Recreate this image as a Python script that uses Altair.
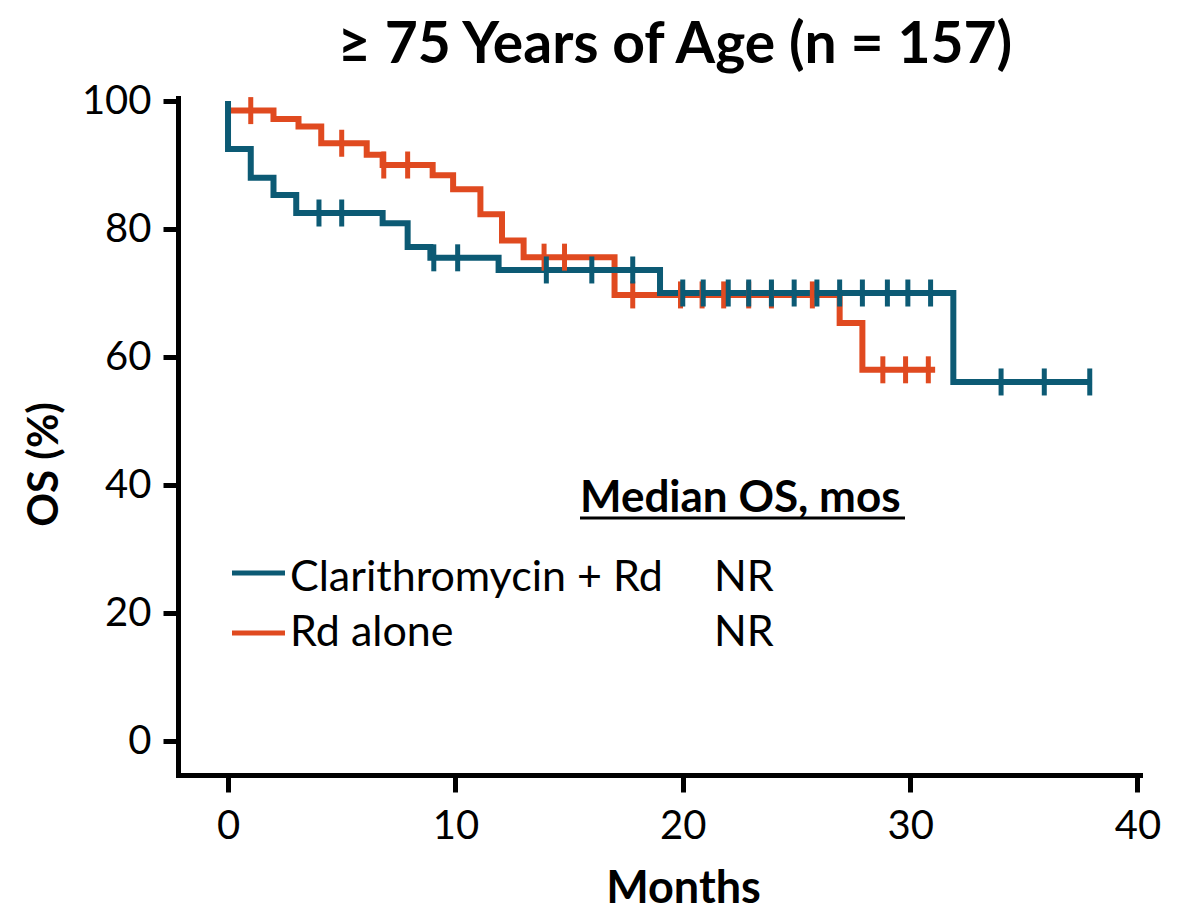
import altair as alt
import pandas as pd

# Kaplan-Meier step points (months, % surviving)
clari_time = [0, 0, 1.0, 2.0, 3.0, 6.8, 7.9, 8.9, 11.9, 19.0, 31.9, 38.0]
clari_surv = [100, 92.5, 88.0, 85.3, 82.5, 80.9, 77.2, 75.5, 73.6, 70.0, 56.1, 56.1]
clari_censor = [4.0, 5.0, 9.05, 10.1, 14.0, 16.0, 17.8, 20.0, 20.9, 22.0, 22.9, 23.9,
                24.9, 25.9, 26.9, 27.9, 29.0, 29.9, 30.9, 34.0, 35.9, 37.9]

rd_time = [0.1, 2.0, 3.1, 4.1, 6.1, 6.8, 9.0, 9.9, 11.1, 12.05, 13.0, 17.0, 26.9, 27.9, 31.1]
rd_surv = [98.5, 97.2, 96.0, 93.4, 91.6, 90.0, 88.4, 86.2, 82.3, 78.2, 75.6, 69.7, 65.3, 58.0, 58.0]
rd_censor = [1.0, 5.0, 6.85, 7.9, 13.9, 14.8, 17.8, 19.9, 20.85, 21.8, 22.9, 23.9,
             25.7, 28.8, 29.8, 30.8]

groups = ["Clarithromycin + Rd", "Rd alone"]
medians = ["NR", "NR"]
colors = ["#0c5a74", "#e04a20"]

TEXT_FONT = "Lato"


def step_value(times, surv, t):
    value = surv[0]
    for ti, si in zip(times, surv):
        if ti <= t:
            value = si
    return value


curve_rows = []
censor_rows = []
for g, times, surv, cens in [
    (groups[1], rd_time, rd_surv, rd_censor),
    (groups[0], clari_time, clari_surv, clari_censor),
]:
    for i, (t, s) in enumerate(zip(times, surv)):
        curve_rows.append({"group": g, "order": i, "month": t, "os": s})
    for t in cens:
        censor_rows.append({"group": g, "month": t, "os": step_value(times, surv, t)})

curves = pd.DataFrame(curve_rows)
censors = pd.DataFrame(censor_rows)

x_scale = alt.Scale(domain=[-2.2, 40.11], nice=False, zero=False)
y_scale = alt.Scale(domain=[-5.31, 100.47], nice=False, zero=False)
color_scale = alt.Scale(domain=groups, range=colors)

x_axis = alt.Axis(values=[0, 10, 20, 30, 40], title="Months", grid=False,
                  labelFont=TEXT_FONT, labelFontSize=40, labelColor="black",
                  labelPadding=14, tickSize=17, tickWidth=5, tickColor="black",
                  domainWidth=5, domainColor="black", domainCap="square",
                  titleFont=TEXT_FONT, titleFontSize=45, titleFontWeight="bold",
                  titleColor="black", titleX=505, titleY=127,
                  titleAlign="center", titleBaseline="alphabetic")
y_axis = alt.Axis(values=[0, 20, 40, 60, 80, 100], title="OS (%)", grid=False,
                  labelFont=TEXT_FONT, labelFontSize=40, labelColor="black",
                  labelPadding=12, tickSize=15, tickWidth=5, tickColor="black",
                  domainWidth=5, domainColor="black", domainCap="square",
                  titleFont=TEXT_FONT, titleFontSize=42, titleFontWeight="bold",
                  titleColor="black", titleX=-134, titleY=366, titleAngle=-90,
                  titleAlign="center", titleBaseline="middle")

lines = alt.Chart(curves).mark_line(interpolate="step-after", strokeWidth=6,
                                    strokeCap="butt", strokeJoin="miter").encode(
    x=alt.X("month:Q", scale=x_scale, axis=x_axis),
    y=alt.Y("os:Q", scale=y_scale, axis=y_axis),
    color=alt.Color("group:N", scale=color_scale, legend=None),
    detail="group:N",
    order=alt.Order("order:Q"),
)

ticks = alt.Chart(censors).mark_tick(orient="vertical", size=27, thickness=5, opacity=1).encode(
    x=alt.X("month:Q", scale=x_scale),
    y=alt.Y("os:Q", scale=y_scale),
    color=alt.Color("group:N", scale=color_scale, legend=None),
)

# Legend block: swatch, treatment name and median OS per row
legend_df = pd.DataFrame({"group": groups, "median": medians})
row_swatch_y = [475, 535]
row_text_y = [480, 535]

legend_layers = []
for i, g in enumerate(groups):
    row = alt.Chart(legend_df).transform_filter(alt.datum.group == g)
    legend_layers.append(
        row.mark_rule(strokeWidth=5).encode(
            x=alt.value(54), x2=alt.value(107), y=alt.value(row_swatch_y[i]),
            color=alt.Color("group:N", scale=color_scale, legend=None),
        )
    )
    legend_layers.append(
        row.mark_text(align="left", baseline="middle", font=TEXT_FONT, fontSize=43,
                      color="black").encode(
            x=alt.value(112), y=alt.value(row_text_y[i]), text="group:N",
        )
    )
    legend_layers.append(
        row.mark_text(align="left", baseline="middle", font=TEXT_FONT, fontSize=43,
                      color="black").encode(
            x=alt.value(536), y=alt.value(row_text_y[i]), text="median:N",
        )
    )

header_df = pd.DataFrame({"label": ["Median OS, mos"]})
header = alt.Chart(header_df).mark_text(align="left", baseline="alphabetic", font=TEXT_FONT,
                                        fontSize=44, fontWeight="bold", color="black").encode(
    x=alt.value(402), y=alt.value(414), text="label:N",
)
underline = alt.Chart(header_df).mark_rule(strokeWidth=3, color="black").encode(
    x=alt.value(402), x2=alt.value(727), y=alt.value(420),
)

title_df = pd.DataFrame({"label": ["\u2265 75 Years of Age (n = 157)"]})
title = alt.Chart(title_df).mark_text(align="center", baseline="alphabetic", font=TEXT_FONT,
                                      fontSize=57, fontWeight="bold", color="black").encode(
    x=alt.value(497), y=alt.value(-35), text="label:N",
)

chart = alt.layer(lines, ticks, *legend_layers, header, underline, title).properties(
    width=962, height=677,
    background="white",
    autosize=alt.AutoSizeParams(type="none"),
    padding={"left": 178, "top": 98, "right": 47, "bottom": 138},
).configure_view(stroke=None, strokeWidth=0)

chart.save("out.html", embed_options={"renderer": "svg", "actions": False})
